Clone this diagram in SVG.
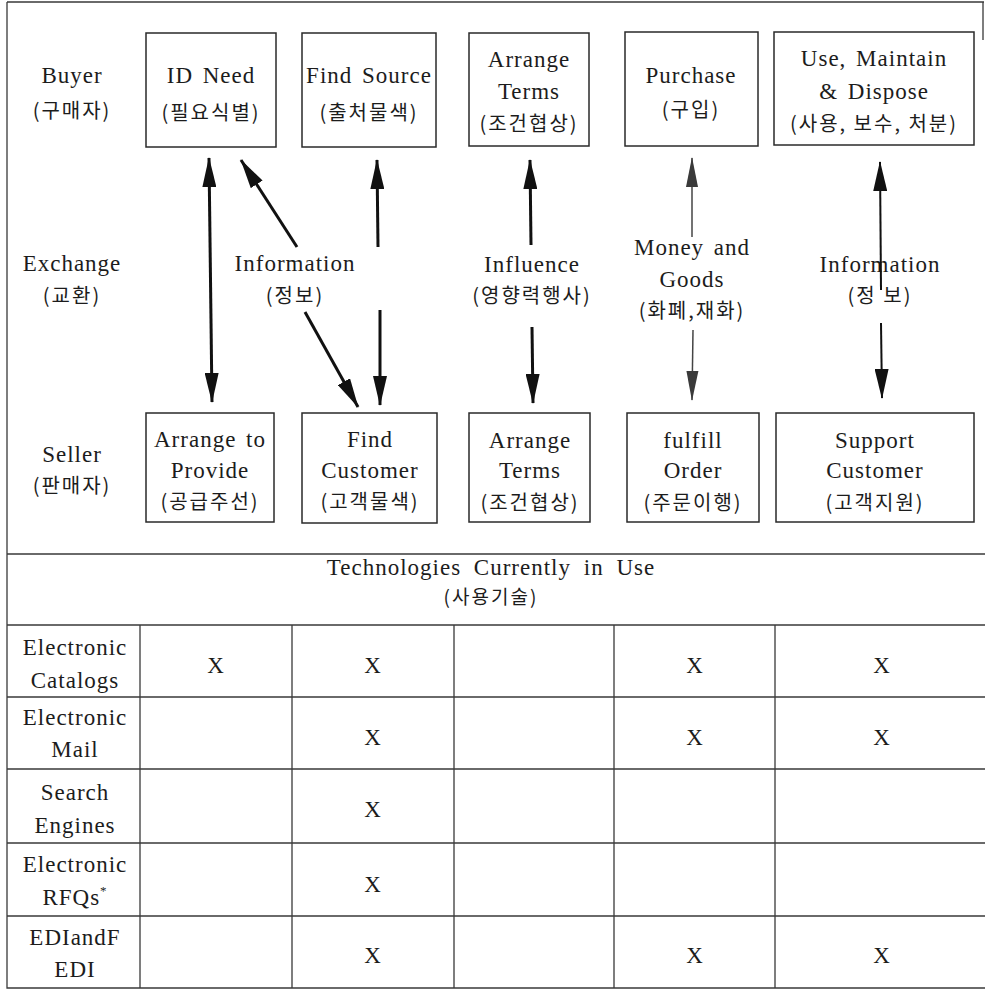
<svg xmlns="http://www.w3.org/2000/svg" width="985" height="990" viewBox="0 0 985 990">
<style>
.t{font-size:23px;fill:#1c1c1c;text-anchor:middle;letter-spacing:1px;word-spacing:3px}
.k{font-family:"Noto Sans CJK KR",sans-serif;font-size:20px;fill:#1c1c1c;text-anchor:middle;letter-spacing:2px}
.box{fill:none;stroke:#2a2a2a;stroke-width:1.5}
.grid{stroke:#3a3a3a;stroke-width:1.3;fill:none}
.a3{stroke:#111;stroke-width:3;fill:none}
.a2{stroke:#111;stroke-width:2;fill:none}
.a1{stroke:#444;stroke-width:1.5;fill:none}
</style>
<defs>
<marker id="ah" viewBox="0 0 30 14" refX="29" refY="7" markerWidth="30" markerHeight="14" markerUnits="userSpaceOnUse" orient="auto-start-reverse">
<path d="M0,0 L30,7 L0,14 z" fill="#111"/>
</marker>
<marker id="ahg" viewBox="0 0 30 14" refX="29" refY="7" markerWidth="30" markerHeight="14" markerUnits="userSpaceOnUse" orient="auto-start-reverse">
<path d="M0,1 L30,7 L0,13 z" fill="#3a3a3a"/>
</marker>
</defs>
<rect width="985" height="990" fill="#fff"/>

<g id="frame">
<path class="grid" d="M7,2 H984 M7,2 V988 H985 M983,2 V40 M7,554 H985"/>
</g>

<g font-family="Liberation Serif, serif">
<g id="labels">
<text class="t" x="72" y="83">Buyer</text>
<text class="k" x="72" y="118">(구매자)</text>
<text class="t" x="72" y="271">Exchange</text>
<text class="k" x="72" y="303">(교환)</text>
<text class="t" x="72" y="462">Seller</text>
<text class="k" x="72" y="493">(판매자)</text>
</g>

<g id="b-idneed">
<rect class="box" x="146" y="33" width="130" height="114"/>
<text class="t" x="211" y="83">ID Need</text>
<text class="k" x="211" y="120">(필요식별)</text>
</g>
<g id="b-findsource">
<rect class="box" x="302" y="33" width="134" height="114"/>
<text class="t" x="369" y="83">Find Source</text>
<text class="k" x="369" y="120">(출처물색)</text>
</g>
<g id="b-arrangeterms">
<rect class="box" x="469" y="33" width="120" height="113"/>
<text class="t" x="529" y="67">Arrange</text>
<text class="t" x="529" y="99">Terms</text>
<text class="k" x="529" y="131">(조건협상)</text>
</g>
<g id="b-purchase">
<rect class="box" x="625" y="32" width="133" height="114"/>
<text class="t" x="691" y="83">Purchase</text>
<text class="k" x="691" y="117">(구입)</text>
</g>
<g id="b-use">
<rect class="box" x="774" y="32" width="200" height="113"/>
<text class="t" x="874" y="66">Use, Maintain</text>
<text class="t" x="874" y="99">&amp; Dispose</text>
<text class="k" x="874" y="131">(사용, 보수, 처분)</text>
</g>

<g id="s-arrangeprovide">
<rect class="box" x="146" y="413" width="128" height="109"/>
<text class="t" x="210" y="447">Arrange to</text>
<text class="t" x="210" y="478">Provide</text>
<text class="k" x="210" y="509">(공급주선)</text>
</g>
<g id="s-findcustomer">
<rect class="box" x="302" y="413" width="135" height="110"/>
<text class="t" x="370" y="447">Find</text>
<text class="t" x="370" y="478">Customer</text>
<text class="k" x="370" y="509">(고객물색)</text>
</g>
<g id="s-arrangeterms">
<rect class="box" x="469" y="413" width="121" height="109"/>
<text class="t" x="530" y="448">Arrange</text>
<text class="t" x="530" y="478">Terms</text>
<text class="k" x="530" y="510">(조건협상)</text>
</g>
<g id="s-fulfill">
<rect class="box" x="627" y="413" width="132" height="109"/>
<text class="t" x="693" y="448">fulfill</text>
<text class="t" x="693" y="478">Order</text>
<text class="k" x="693" y="510">(주문이행)</text>
</g>
<g id="s-support">
<rect class="box" x="776" y="413" width="198" height="109"/>
<text class="t" x="875" y="448">Support</text>
<text class="t" x="875" y="478">Customer</text>
<text class="k" x="875" y="510">(고객지원)</text>
</g>

<g id="exchange-labels">
<text class="t" x="295" y="271">Information</text>
<text class="k" x="295" y="303">(정보)</text>
<text class="t" x="532" y="272">Influence</text>
<text class="k" x="532" y="303">(영향력행사)</text>
<text class="t" x="692" y="255">Money and</text>
<text class="t" x="692" y="287">Goods</text>
<text class="k" x="692" y="318">(화폐,재화)</text>
<text class="t" x="880" y="272">Information</text>
<text class="k" x="880" y="303">(정  보)</text>
</g>

<g id="connectors">
<line class="a3" x1="209" y1="158" x2="212" y2="402" marker-start="url(#ah)" marker-end="url(#ah)"/>
<line class="a3" x1="297" y1="247" x2="241" y2="160" marker-end="url(#ah)"/>
<line class="a3" x1="305" y1="312" x2="358" y2="407" marker-end="url(#ah)"/>
<line class="a3" x1="378" y1="247" x2="377" y2="160" marker-end="url(#ah)"/>
<line class="a3" x1="380" y1="310" x2="380" y2="405" marker-end="url(#ah)"/>
<line class="a3" x1="531" y1="245" x2="530" y2="160" marker-end="url(#ah)"/>
<line class="a3" x1="532" y1="327" x2="533" y2="403" marker-end="url(#ah)"/>
<line class="a1" x1="692" y1="237" x2="692" y2="158" marker-end="url(#ahg)"/>
<line class="a1" x1="693" y1="330" x2="692" y2="400" marker-end="url(#ahg)"/>
<line class="a2" x1="881" y1="290" x2="880" y2="162" marker-end="url(#ah)"/>
<line class="a2" x1="881" y1="323" x2="882" y2="398" marker-end="url(#ah)"/>
</g>

<g id="table">
<text class="t" x="491" y="575" style="word-spacing:6px">Technologies Currently in Use</text>
<text class="k" x="491" y="604" style="font-size:19px">(사용기술)</text>
<path class="grid" d="M7,625 H985 M7,697 H985 M7,769 H985 M7,843 H985 M7,916 H985 M140,625 V988 M292,625 V988 M454,625 V988 M614,625 V988 M775,625 V988"/>
<g id="row-catalogs">
<text class="t" x="75" y="655">Electronic</text>
<text class="t" x="75" y="688">Catalogs</text>
<text class="t" x="216" y="673">X</text>
<text class="t" x="373" y="673">X</text>
<text class="t" x="695" y="673">X</text>
<text class="t" x="882" y="673">X</text>
</g>
<g id="row-mail">
<text class="t" x="75" y="725">Electronic</text>
<text class="t" x="75" y="757">Mail</text>
<text class="t" x="373" y="745">X</text>
<text class="t" x="695" y="745">X</text>
<text class="t" x="882" y="745">X</text>
</g>
<g id="row-search">
<text class="t" x="75" y="800">Search</text>
<text class="t" x="75" y="833">Engines</text>
<text class="t" x="373" y="817">X</text>
</g>
<g id="row-rfq">
<text class="t" x="75" y="872">Electronic</text>
<text class="t" x="75" y="905">RFQs<tspan font-size="13" dy="-10">*</tspan></text>
<text class="t" x="373" y="892">X</text>
</g>
<g id="row-edi">
<text class="t" x="75" y="945">EDIandF</text>
<text class="t" x="75" y="977">EDI</text>
<text class="t" x="373" y="963">X</text>
<text class="t" x="695" y="963">X</text>
<text class="t" x="882" y="963">X</text>
</g>
</g>
</g>
</svg>
